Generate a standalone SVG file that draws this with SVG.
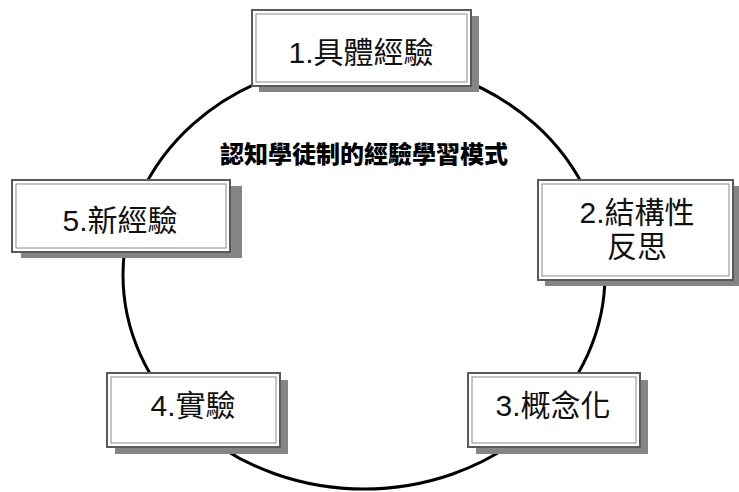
<svg xmlns="http://www.w3.org/2000/svg" width="739" height="492" viewBox="0 0 739 492">
<style>
.shadow{fill:#858585}
.box{fill:#ffffff;stroke:#5a5a5a;stroke-width:2}
.inner{fill:none;stroke:#8a8a8a;stroke-width:1}
.lbl{font-family:"Liberation Sans","Noto Sans CJK TC",sans-serif;font-size:30px;fill:#111;text-anchor:middle}
.title{font-family:"Noto Sans CJK TC",sans-serif;font-size:24px;font-weight:900;fill:#000;text-anchor:middle}
.conn{fill:none;stroke:#000;stroke-width:3}
</style>
<rect width="739" height="492" fill="#fff"/>
<g id="connectors">
<ellipse class="conn" cx="364" cy="275" rx="241" ry="214"/>
</g>
<text class="title" x="364" y="163">認知學徒制的經驗學習模式</text>
<g id="node1">
<rect class="shadow" x="259" y="16" width="220" height="76"/>
<rect class="box" x="252" y="10" width="219" height="76"/>
<rect class="inner" x="256" y="14" width="211" height="68"/>
<text class="lbl" x="361" y="63">1.具體經驗</text>
</g>
<g id="node2">
<rect class="shadow" x="545" y="186" width="194" height="100"/>
<rect class="box" x="538" y="180" width="195" height="100"/>
<rect class="inner" x="542" y="184" width="187" height="92"/>
<text class="lbl" x="637" y="223">2.結構性</text>
<text class="lbl" x="637" y="257">反思</text>
</g>
<g id="node3">
<rect class="shadow" x="476" y="380" width="172" height="74"/>
<rect class="box" x="468" y="373" width="172" height="74"/>
<rect class="inner" x="472" y="377" width="164" height="66"/>
<text class="lbl" x="553" y="416">3.概念化</text>
</g>
<g id="node4">
<rect class="shadow" x="115" y="380" width="173" height="74"/>
<rect class="box" x="107" y="373" width="173" height="74"/>
<rect class="inner" x="111" y="377" width="165" height="66"/>
<text class="lbl" x="193" y="416">4.實驗</text>
</g>
<g id="node5">
<rect class="shadow" x="21" y="186" width="221" height="72"/>
<rect class="box" x="12" y="180" width="218" height="72"/>
<rect class="inner" x="16" y="184" width="210" height="64"/>
<text class="lbl" x="120" y="231">5.新經驗</text>
</g>
</svg>
